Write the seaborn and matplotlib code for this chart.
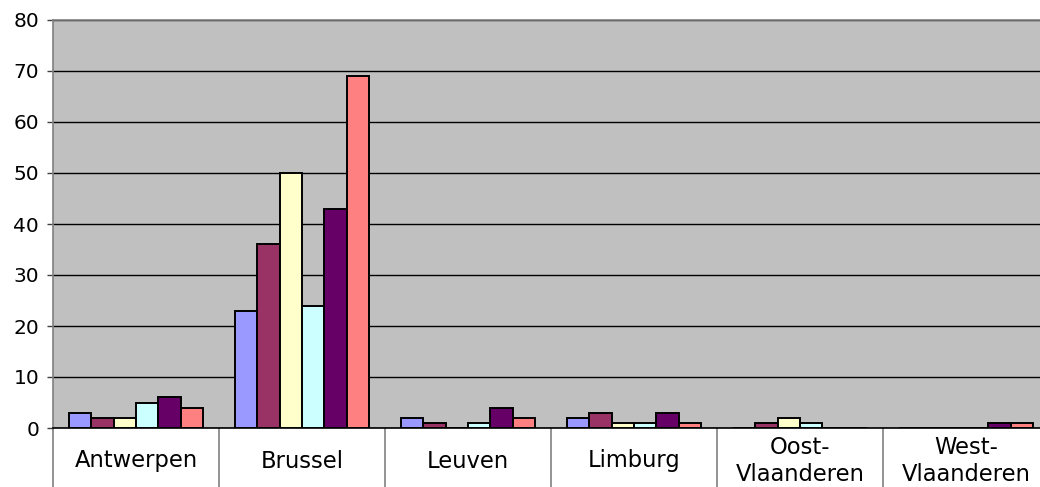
import numpy as np
import pandas as pd
import matplotlib
matplotlib.use("Agg")
import matplotlib.pyplot as plt
import seaborn as sns

categories = ["Antwerpen", "Brussel", "Leuven", "Limburg", "Oost-\nVlaanderen", "West-\nVlaanderen"]
series_names = ["Reeks 1", "Reeks 2", "Reeks 3", "Reeks 4", "Reeks 5", "Reeks 6"]
reeks1 = [3, 23, 2, 2, 0, 0]
reeks2 = [2, 36, 1, 3, 1, 0]
reeks3 = [2, 50, 0, 1, 2, 0]
reeks4 = [5, 24, 1, 1, 1, 0]
reeks5 = [6, 43, 4, 3, 0, 1]
reeks6 = [4, 69, 2, 1, 0, 1]
colors = ["#9999FF", "#993366", "#FFFFCC", "#CCFFFF", "#660066", "#FF8080"]
yticks = [0, 10, 20, 30, 40, 50, 60, 70, 80]

values = [reeks1, reeks2, reeks3, reeks4, reeks5, reeks6]
rows = []
for name, vals in zip(series_names, values):
    for cat, v in zip(categories, vals):
        rows.append({"categorie": cat, "reeks": name, "waarde": v})
df = pd.DataFrame(rows)

sns.set_theme(style="white")
plt.rcParams["font.family"] = ["DejaVu Sans"]

fig = plt.figure(figsize=(10.4, 4.87), dpi=100)
ax = fig.add_axes([53 / 1040, 59 / 487, 996 / 1040, 408 / 487])
ax.set_facecolor("#C0C0C0")

sns.barplot(data=df, x="categorie", y="waarde", hue="reeks", order=categories,
            hue_order=series_names, palette=colors, saturation=1, width=0.81, gap=0,
            edgecolor="black", linewidth=1.4, legend=False, ax=ax, zorder=3)

ax.set_ylim(0, 80)
ax.set_xlim(-0.5, len(categories) - 0.5)
ax.set_yticks(yticks)
ax.set_yticklabels([str(t) for t in yticks], fontsize=14.5, color="black")
ax.yaxis.grid(True, color="black", linewidth=1.0, zorder=1)
ax.set_axisbelow(True)
ax.tick_params(axis="y", direction="out", length=4, width=1, color="#404040",
               left=True, pad=6)

# category boundaries as long ticks forming label boxes
ax.set_xticks(np.arange(-0.5, len(categories) + 0.5, 1.0))
ax.set_xticklabels([])
ax.tick_params(axis="x", direction="out", length=59 * 0.72, width=1.2,
               color="#808080", bottom=True)
for i, cat in enumerate(categories):
    ax.annotate(cat, xy=(i, 0), xycoords=("data", "axes fraction"),
                xytext=(0, -33), textcoords="offset pixels",
                ha="center", va="center", fontsize=16.3, color="black")

ax.set_xlabel("")
ax.set_ylabel("")
for side in ["top", "left", "right"]:
    ax.spines[side].set_color("#808080")
    ax.spines[side].set_linewidth(1.2)
ax.spines["bottom"].set_color("black")
ax.spines["bottom"].set_linewidth(1.2)

fig.savefig("out.png", dpi=100)
